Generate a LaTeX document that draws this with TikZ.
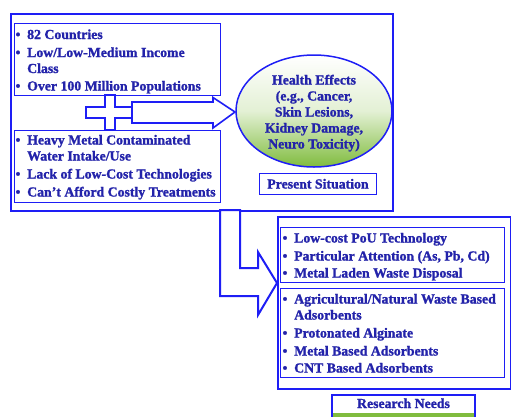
\documentclass[tikz,border=0pt]{standalone}
\usepackage{fontspec}
\setmainfont{Liberation Serif}[BoldFeatures={FakeBold=1.3}]
\usetikzlibrary{shapes.geometric}
\definecolor{lc}{RGB}{30,30,245}
\definecolor{tc}{RGB}{35,35,170}
\definecolor{gr}{RGB}{128,188,62}
\begin{document}
\begin{tikzpicture}[x=1pt,y=-1pt,
  tfont/.style={font=\fontsize{13.8}{16}\selectfont\bfseries},
  txt/.style={tfont, anchor=base west, inner sep=0pt, text=tc},
  bul/.style={tfont, anchor=base, inner sep=0pt, text=tc},
  ctxt/.style={tfont, anchor=base, inner sep=0pt, text=tc},
  bigframe/.style={draw=lc, line width=2pt, anchor=north west, inner sep=0pt},
  frame/.style={draw=lc, line width=1.2pt, anchor=north west, inner sep=0pt, fill=white},
  shapeline/.style={draw=lc, line width=1.6pt, fill=white, line join=miter}
]
\useasboundingbox (0,0) rectangle (511,416);

% big frame (present situation)
\node[bigframe, minimum width=382pt, minimum height=197pt] (present) at (10,13) {};
% inner boxes
\node[frame, minimum width=206pt, minimum height=72pt] (topbox) at (14,23) {};
\node[frame, minimum width=206pt, minimum height=72pt] (botbox) at (14,130) {};

% cross
\draw[shapeline] (105,95) -- (115,95) -- (115,107) -- (132,107) -- (132,118) -- (115,118)
  -- (115,130) -- (105,130) -- (105,118) -- (86,118) -- (86,107) -- (105,107) -- cycle;
% arrow to ellipse
\draw[shapeline] (132,102) -- (213,102) -- (213,97.5) -- (235,112) -- (213,128) -- (213,123) -- (132,123) -- cycle;

% ellipse
\node[ellipse, draw=lc, line width=1.5pt, minimum width=156pt, minimum height=112pt, inner sep=0pt,
  top color=white, bottom color=gr, middle color=gr!22!white] (health) at (314,111) {};
\node[ctxt] (h1) at (314,84.5) {Health Effects};
\node[ctxt] (h2) at (314,100.5) {(e.g., Cancer,};
\node[ctxt] (h3) at (314,116.5) {Skin Lesions,};
\node[ctxt] (h4) at (314,132.5) {Kidney Damage,};
\node[ctxt] (h5) at (314,148.5) {Neuro Toxicity)};

% present situation label
\node[frame, minimum width=117pt, minimum height=21pt] (psbox) at (259,173) {};
\node[ctxt] (pslabel) at (318,188.5) {Present Situation};

% top-left text
\node[bul] (b1) at (18,39) {\textbullet};
\node[txt] (t1) at (27,39) {82 Countries};
\node[bul] (b2) at (18,57) {\textbullet};
\node[txt] (t2) at (27,57) {Low/Low-Medium Income};
\node[txt] (t2b) at (27,73) {Class};
\node[bul] (b3) at (18,90.5) {\textbullet};
\node[txt] (t3) at (27,90.5) {Over 100 Million Populations};

% bottom-left text
\node[bul] (b4) at (18,144.5) {\textbullet};
\node[txt] (t4) at (27,144.5) {Heavy Metal Contaminated};
\node[txt] (t4b) at (27,160.5) {Water Intake/Use};
\node[bul] (b5) at (18,178.5) {\textbullet};
\node[txt] (t5) at (27,178.5) {Lack of Low-Cost Technologies};
\node[bul] (b6) at (18,196.5) {\textbullet};
\node[txt] (t6) at (27,196.5) {Can't Afford Costly Treatments};

% bent arrow
\draw[shapeline, line width=2pt] (220,210) -- (240,210) -- (240,268) -- (258,268) -- (258,252) -- (277,283)
  -- (258,315) -- (258,296) -- (220,296) -- cycle;

% right frame (research needs)
\node[bigframe, line width=1.6pt, minimum width=233pt, minimum height=172pt] (needs) at (277,216) {};
\node[frame, minimum width=224pt, minimum height=55pt] (rtop) at (280,227) {};
\node[frame, minimum width=224pt, minimum height=89pt] (rbot) at (280,288) {};

\node[bul] (r1b) at (285,242.5) {\textbullet};
\node[txt] (r1) at (294,242.5) {Low-cost PoU Technology};
\node[bul] (r2b) at (285,260.5) {\textbullet};
\node[txt] (r2) at (294,260.5) {Particular Attention (As, Pb, Cd)};
\node[bul] (r3b) at (285,277.5) {\textbullet};
\node[txt] (r3) at (294,277.5) {Metal Laden Waste Disposal};

\node[bul] (r4b) at (285,303.5) {\textbullet};
\node[txt] (r4) at (294,303.5) {Agricultural/Natural Waste Based};
\node[txt] (r4c) at (294,319.5) {Adsorbents};
\node[bul] (r5b) at (285,337.5) {\textbullet};
\node[txt] (r5) at (294,337.5) {Protonated Alginate};
\node[bul] (r6b) at (285,355.5) {\textbullet};
\node[txt] (r6) at (294,355.5) {Metal Based Adsorbents};
\node[bul] (r7b) at (285,372.5) {\textbullet};
\node[txt] (r7) at (294,372.5) {CNT Based Adsorbents};

% research needs label (cut at bottom)
\fill[gr] (333,413) rectangle (474,418);
\draw[draw=lc, line width=1.2pt] (332,418) -- (332,395) coordinate (rn1) -- (475,395) coordinate (rn2) -- (475,418);
\node[ctxt] (rnlabel) at (403.5,408) {Research Needs};
\end{tikzpicture}
\end{document}
